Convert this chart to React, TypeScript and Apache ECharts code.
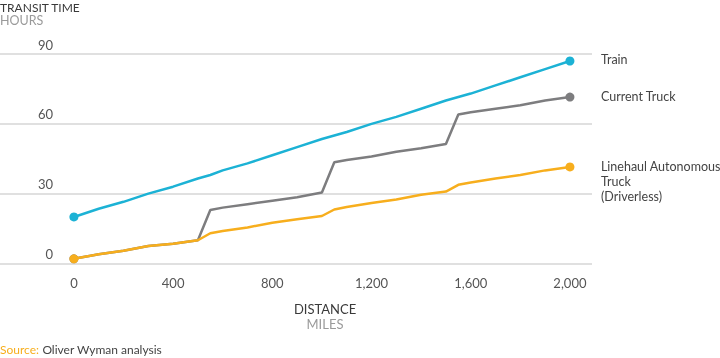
import React, { useEffect, useRef } from "react";
import * as echarts from "echarts";

const miles = [0, 100, 200, 300, 400, 500, 550, 600, 700, 800, 900, 1000, 1050, 1100, 1200, 1300, 1400, 1500, 1550, 1600, 1700, 1800, 1900, 2000];
const train = [20, 23.5, 26.5, 30, 33, 36.5, 38, 40, 43, 46.5, 50, 53.5, 55, 56.5, 60, 63, 66.5, 70, 71.5, 73, 76.5, 80, 83.5, 87];
const currentTruck = [2, 4, 5.5, 7.5, 8.5, 10, 23, 24, 25.5, 27, 28.5, 30.5, 43.5, 44.5, 46, 48, 49.5, 51.3, 64, 65, 66.5, 68, 70, 71.5];
const autonomous = [2, 4, 5.5, 7.5, 8.5, 10, 13, 14, 15.5, 17.5, 19, 20.4, 23.2, 24.3, 26, 27.5, 29.5, 30.9, 33.8, 34.8, 36.5, 38, 40, 41.5];
const xTicks = [0, 400, 800, 1200, 1600, 2000];
const yTicks = [0, 30, 60, 90];
const seriesNames = ["Train", "Current Truck", "Linehaul Autonomous\nTruck\n(Driverless)"];

const FONT = "Lato, 'Open Sans', sans-serif";

export default function App() {
  const ref = useRef<HTMLDivElement>(null);
  useEffect(() => {
    if (!ref.current) return;
    const chart = echarts.init(ref.current, null, { renderer: "svg" });
    const pairs = (vals: number[]) => miles.map((m, i) => [m, vals[i]]);
    const last = miles.length - 1;
    const symSize = (_v: any, p: any) => (p.dataIndex === 0 || p.dataIndex === last ? 9 : 0);
    const mk = (name: string, vals: number[], color: string, z: number, top: boolean) => ({
      type: "line",
      name,
      data: pairs(vals),
      z,
      symbol: "circle",
      showSymbol: true,
      symbolSize: symSize,
      lineStyle: { color, width: 2.5 },
      itemStyle: { color },
      emphasis: { disabled: true },
      endLabel: {
        show: true,
        formatter: name,
        distance: 31,
        color: "#444",
        fontFamily: FONT,
        fontSize: 12.5,
        lineHeight: 15,
        verticalAlign: top ? "top" : "middle",
        offset: top ? [0, -8] : [0, -1],
      },
    });
    chart.setOption({
      animation: false,
      grid: { left: 0, right: 128, top: 54, bottom: 94.5 },
      xAxis: {
        type: "value",
        min: -298,
        max: 2089,
        axisLine: { show: false },
        axisTick: { show: false },
        splitLine: { show: false },
        axisLabel: {
          customValues: xTicks,
          formatter: (v: number) => v.toLocaleString("en-US"),
          color: "#555",
          fontFamily: FONT,
          fontSize: 13,
          margin: 13,
        },
      },
      yAxis: {
        type: "value",
        min: 0,
        max: 90,
        interval: 30,
        axisLine: { show: false },
        axisTick: { show: false },
        splitLine: { show: true, lineStyle: { color: "#d6d6d6", width: 1.5 } },
        axisLabel: {
          inside: true,
          align: "right",
          verticalAlign: "bottom",
          margin: 53,
          padding: [0, 0, 3, 0],
          color: "#555",
          fontFamily: FONT,
          fontSize: 13,
          formatter: (v: number) => (yTicks.includes(v) ? String(v) : ""),
        },
      },
      series: [
        mk(seriesNames[1], currentTruck, "#7d7d7f", 2, false),
        mk(seriesNames[2], autonomous, "#f7ae1d", 3, true),
        mk(seriesNames[0], train, "#1cb2d5", 4, false),
      ],
      graphic: [
        { type: "text", left: 0, top: 1, style: { text: "TRANSIT TIME", fill: "#3a3a3a", font: `12px ${FONT}` } },
        { type: "text", left: 0, top: 14, style: { text: "HOURS", fill: "#9a9a9a", font: `12.5px ${FONT}` } },
        { type: "text", x: 325, y: 302, style: { text: "DISTANCE", fill: "#3a3a3a", font: `13px ${FONT}`, align: "center" } },
        { type: "text", x: 325, y: 317, style: { text: "MILES", fill: "#9a9a9a", font: `13px ${FONT}`, align: "center" } },
        {
          type: "text",
          left: 0,
          top: 343,
          style: {
            text: "{a|Source:} {b|Oliver Wyman analysis}",
            rich: {
              a: { fill: "#f7ae1d", font: `12px ${FONT}` },
              b: { fill: "#444", font: `12px ${FONT}` },
            },
          },
        },
      ],
    });
    return () => chart.dispose();
  }, []);
  return <div ref={ref} style={{ position: "fixed", left: 0, top: 0, width: 720, height: 358 }} />;
}
